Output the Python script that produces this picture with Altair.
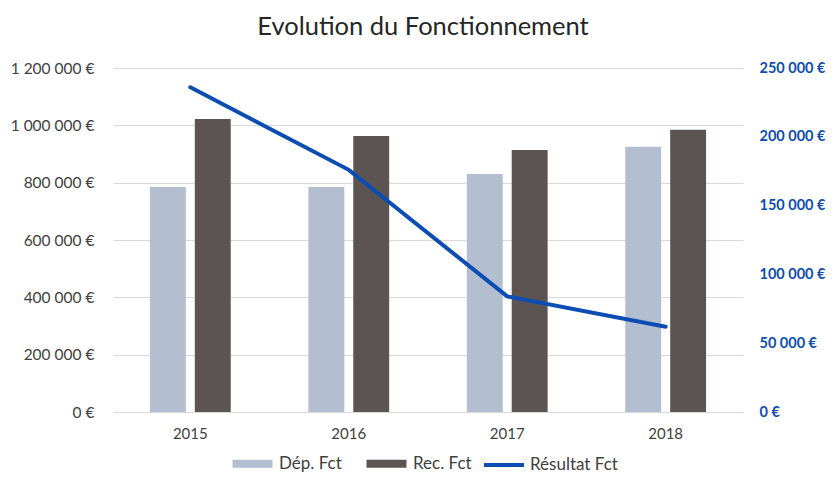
import altair as alt
import pandas as pd

years = ["2015", "2016", "2017", "2018"]
dep_fct = [785000, 785000, 830000, 925000]
rec_fct = [1022000, 963000, 914000, 985000]
resultat_fct = [236000, 176000, 84000, 62000]

series_bar = ["Dép. Fct", "Rec. Fct"]
series_line = ["Résultat Fct"]
left_ticks = [0, 200000, 400000, 600000, 800000, 1000000, 1200000]
right_ticks = [0, 50000, 100000, 150000, 200000, 250000]

bars_df = pd.DataFrame(
    [{"annee": y, "serie": series_bar[0], "valeur": v} for y, v in zip(years, dep_fct)]
    + [{"annee": y, "serie": series_bar[1], "valeur": v} for y, v in zip(years, rec_fct)]
)
line_df = pd.DataFrame({"annee": years, "serie_l": series_line * len(years), "valeur": resultat_fct})

FONT = "Lato"
GREY_TXT = "#404040"
BLUE = "#0B4DB3"

fmt = "replace(format(datum.value, ','), regexp(',', 'g'), ' ') + ' €'"

x_enc = alt.X(
    "annee:N",
    sort=years,
    scale=alt.Scale(paddingInner=0.49, paddingOuter=0.233),
    axis=alt.Axis(title=None, labelAngle=0, domain=False, ticks=False, labelPadding=14,
                  labelFontSize=15, labelColor=GREY_TXT, labelFont=FONT, grid=False),
)

bars = alt.Chart(bars_df).mark_bar().encode(
    x=x_enc,
    xOffset=alt.XOffset("serie:N", sort=series_bar, scale=alt.Scale(paddingInner=0.2, paddingOuter=0)),
    y=alt.Y(
        "valeur:Q",
        scale=alt.Scale(domain=[0, 1200000], nice=False),
        axis=alt.Axis(title=None, values=left_ticks, labelExpr=fmt, domain=False, ticks=False,
                      labelPadding=19, labelFontSize=15.5, labelColor=GREY_TXT, labelFont=FONT,
                      gridColor="#D9D9D9", gridWidth=1),
    ),
    fill=alt.Fill(
        "serie:N",
        sort=series_bar,
        scale=alt.Scale(domain=series_bar, range=["#B3BFD0", "#5C5453"]),
        legend=alt.Legend(title=None, orient="none", legendX=131, legendY=387, direction="horizontal",
                          symbolType="M-2.5,-0.5H2.5V0.5H-2.5Z", symbolSize=256,
                          symbolStrokeWidth=0, labelFontSize=17, labelColor=GREY_TXT,
                          labelFont=FONT, labelOffset=18, columnPadding=24, padding=0),
    ),
)

line = alt.Chart(line_df).mark_line(strokeWidth=4, strokeCap="round").encode(
    x=alt.X("annee:N", sort=years),
    y=alt.Y(
        "valeur:Q",
        scale=alt.Scale(domain=[0, 250000], nice=False),
        axis=alt.Axis(title=None, orient="right", values=right_ticks, labelExpr=fmt, domain=False,
                      ticks=False, grid=False, labelPadding=16, labelFontSize=14.5,
                      labelFontWeight="bold", labelColor=BLUE, labelFont=FONT),
    ),
    stroke=alt.Stroke(
        "serie_l:N",
        scale=alt.Scale(domain=series_line, range=[BLUE]),
        legend=alt.Legend(title=None, orient="none", legendX=369, legendY=375, symbolType="stroke",
                          symbolSize=1600, symbolStrokeWidth=4, labelFontSize=17,
                          labelColor=GREY_TXT, labelFont=FONT, padding=0),
    ),
)

chart = (
    alt.layer(bars, line)
    .resolve_scale(y="independent", fill="independent", stroke="independent")
    .properties(
        width=630,
        height=344,
        title=alt.Title("Evolution du Fonctionnement", fontSize=25.5, fontWeight="normal",
                        color="#262626", font=FONT, offset=20, dx=-5),
        padding={"left": 2, "right": 0, "top": 6, "bottom": 0},
    )
    .configure_view(stroke=None)
)

chart.save("out.html", embed_options={"renderer": "svg", "actions": False})
